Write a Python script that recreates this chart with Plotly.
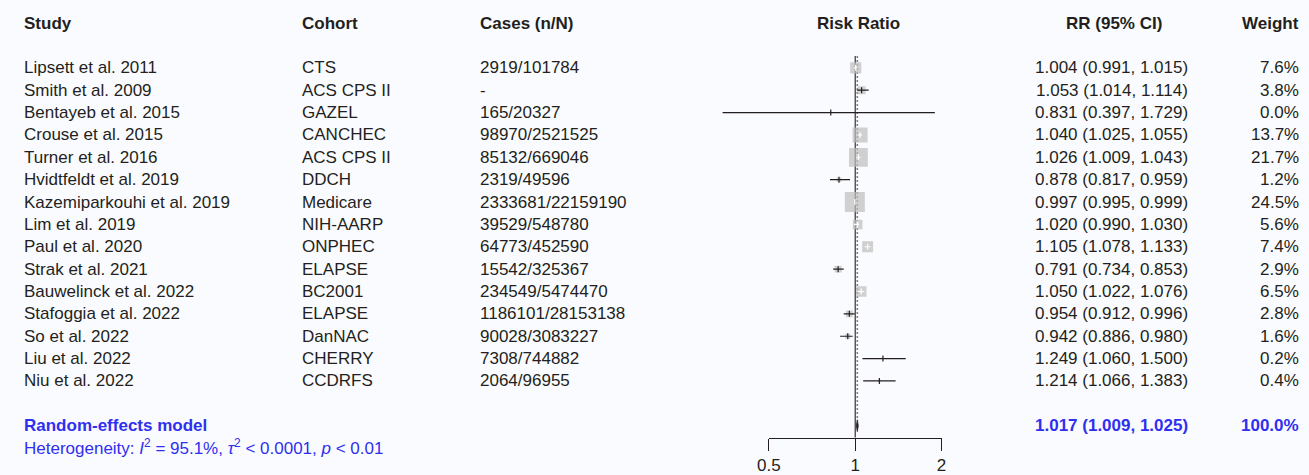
import math
import plotly.graph_objects as go

# ---------------- data ----------------
studies = ["Lipsett et al. 2011", "Smith et al. 2009", "Bentayeb et al. 2015", "Crouse et al. 2015",
           "Turner et al. 2016", "Hvidtfeldt et al. 2019", "Kazemiparkouhi et al. 2019", "Lim et al. 2019",
           "Paul et al. 2020", "Strak et al. 2021", "Bauwelinck et al. 2022", "Stafoggia et al. 2022",
           "So et al. 2022", "Liu et al. 2022", "Niu et al. 2022"]
cohorts = ["CTS", "ACS CPS II", "GAZEL", "CANCHEC", "ACS CPS II", "DDCH", "Medicare", "NIH-AARP",
           "ONPHEC", "ELAPSE", "BC2001", "ELAPSE", "DanNAC", "CHERRY", "CCDRFS"]
cases = ["2919/101784", "-", "165/20327", "98970/2521525", "85132/669046", "2319/49596",
         "2333681/22159190", "39529/548780", "64773/452590", "15542/325367", "234549/5474470",
         "1186101/28153138", "90028/3083227", "7308/744882", "2064/96955"]
# values printed in the RR (95% CI) column
rr = [1.004, 1.053, 0.831, 1.040, 1.026, 0.878, 0.997, 1.020, 1.105, 0.791, 1.050, 0.954, 0.942, 1.249, 1.214]
ci_lo = [0.991, 1.014, 0.397, 1.025, 1.009, 0.817, 0.995, 0.990, 1.078, 0.734, 1.022, 0.912, 0.886, 1.060, 1.066]
ci_hi = [1.015, 1.114, 1.729, 1.055, 1.043, 0.959, 0.999, 1.030, 1.133, 0.853, 1.076, 0.996, 0.980, 1.500, 1.383]
weights = [7.6, 3.8, 0.0, 13.7, 21.7, 1.2, 24.5, 5.6, 7.4, 2.9, 6.5, 2.8, 1.6, 0.2, 0.4]
# positions of the drawn marks
mark_rr = [1.004, 1.053, 0.822, 1.040, 1.026, 0.878, 0.997, 1.020, 1.105, 0.872, 1.050, 0.954, 0.942, 1.249, 1.214]
mark_lo = [0.991, 1.014, 0.345, 1.025, 1.009, 0.817, 0.995, 0.990, 1.078, 0.838, 1.022, 0.912, 0.886, 1.060, 1.066]
mark_hi = [1.015, 1.114, 1.895, 1.055, 1.043, 0.959, 0.999, 1.030, 1.133, 0.912, 1.076, 0.996, 0.980, 1.500, 1.383]

summary_label = "Random-effects model"
summary_rr, summary_lo, summary_hi, summary_weight = 1.017, 1.009, 1.025, 100.0
het_i2 = "95.1%"
het_tau2 = "&lt; 0.0001"
het_p = "&lt; 0.01"

headers = ["Study", "Cohort", "Cases (n/N)", "Risk Ratio", "RR (95% CI)", "Weight"]
tick_vals = [0.5, 1, 2]
tick_text = ["0.5", "1", "2"]

# ---------------- style / geometry ----------------
W, H = 1309, 475
FONT = "Liberation Sans, Arial, Helvetica, sans-serif"
FS = 17
TEXT = "#231f20"
BLUE = "#2f2ff0"
BOX = "#bebebe"
DOT = "#808080"
BG = "#fafbfe"

PX_PER_LOG2 = 87.5
X_ONE_PX = 854.3
PX_PER_DEC = PX_PER_LOG2 / math.log10(2)
FOREST_L, FOREST_R = 700, 960
ROW0, ROWH, AXIS_PX = 69.0, 22.75, 445.0
LW = 1.2


def lg(v):
    return math.log10(v)


x_range = [(FOREST_L - X_ONE_PX) / PX_PER_DEC, (FOREST_R - X_ONE_PX) / PX_PER_DEC]
y_range = [(H - ROW0) / ROWH, -ROW0 / ROWH]       # full figure height
axis_row = (AXIS_PX - ROW0) / ROWH
n = len(studies)
rows = list(range(n))
sum_row = n + 1
het_row = n + 1.93
head_row = (23.5 - ROW0) / ROWH
line_top = (57 - ROW0) / ROWH

box_px = [4.04 * math.sqrt(w) for w in weights]

# line colour: white if the CI fits inside the box, otherwise dark
inside = []
for e, lo, hi, s in zip(mark_rr, mark_lo, mark_hi, box_px):
    half = s / 2 / PX_PER_DEC
    inside.append(s > 0 and lg(lo) >= lg(e) - half and lg(hi) <= lg(e) + half)

fig = go.Figure()

# boxes
fig.add_trace(go.Scatter(
    x=[lg(v) for v in mark_rr], y=rows, mode="markers",
    marker=dict(symbol="square", size=box_px, color=BOX, line=dict(width=0)),
    hoverinfo="skip", showlegend=False))

# CI lines
for want_inside, col in [(False, TEXT), (True, "white")]:
    xs, ys = [], []
    for i in rows:
        if inside[i] == want_inside:
            xs += [lg(mark_lo[i]), lg(mark_hi[i]), None]
            ys += [i, i, None]
    fig.add_trace(go.Scatter(x=xs, y=ys, mode="lines", line=dict(color=col, width=LW),
                             hoverinfo="skip", showlegend=False))

# point ticks
fig.add_trace(go.Scatter(
    x=[lg(v) for v in mark_rr], y=rows, mode="markers",
    marker=dict(symbol="line-ns", size=6 / 1.4,
                line=dict(width=LW, color=["white" if f else TEXT for f in inside])),
    hoverinfo="skip", showlegend=False))

# summary diamond
dh = 6 / ROWH
fig.add_trace(go.Scatter(
    x=[lg(summary_lo), lg(summary_rr), lg(summary_hi), lg(summary_rr), lg(summary_lo)],
    y=[sum_row, sum_row - dh, sum_row, sum_row + dh, sum_row],
    mode="lines", fill="toself", fillcolor=TEXT, line=dict(color=TEXT, width=0.8),
    hoverinfo="skip", showlegend=False))

# dummy trace for the visible axis
fig.add_trace(go.Scatter(x=[None], y=[None], xaxis="x2", yaxis="y", mode="markers",
                         hoverinfo="skip", showlegend=False))

shapes = [
    dict(type="line", xref="x", yref="y", x0=lg(1), x1=lg(1), y0=line_top, y1=axis_row,
         line=dict(color=TEXT, width=1.1), layer="below"),
    dict(type="line", xref="x", yref="y", x0=lg(summary_rr), x1=lg(summary_rr), y0=line_top,
         y1=sum_row - dh, line=dict(color=DOT, width=1.6, dash="2px,2px"), layer="below"),
]

annotations = []


def ann(text, xpx, row, anchor="left", color=TEXT, bold=False):
    if bold:
        text = "<b>" + text + "</b>"
    annotations.append(dict(text=text, x=xpx / W, xref="paper", y=row, yref="y",
                            xanchor=anchor, yanchor="middle", showarrow=False,
                            font=dict(family=FONT, size=FS, color=color)))


STUDY_X, COHORT_X, CASES_X = 10, 292, 472
RISK_C, RR_HEAD_C, RR_R, WT_R = 858, 1117, 1194, 1306

ann(headers[0], STUDY_X, head_row, bold=True)
ann(headers[1], COHORT_X, head_row, bold=True)
ann(headers[2], CASES_X, head_row, bold=True)
ann(headers[3], RISK_C, head_row, anchor="center", bold=True)
ann(headers[4], RR_HEAD_C, head_row, anchor="center", bold=True)
ann(headers[5], WT_R, head_row, anchor="right", bold=True)

for i in rows:
    ann(studies[i], STUDY_X, i)
    ann(cohorts[i], COHORT_X, i)
    ann(cases[i], CASES_X, i)
    ann(f"{rr[i]:.3f} ({ci_lo[i]:.3f}, {ci_hi[i]:.3f})", RR_R, i, anchor="right")
    ann(f"{weights[i]:.1f}%", WT_R, i, anchor="right")

ann(summary_label, STUDY_X, sum_row, color=BLUE, bold=True)
ann(f"{summary_rr:.3f} ({summary_lo:.3f}, {summary_hi:.3f})", RR_R, sum_row, anchor="right",
    color=BLUE, bold=True)
ann(f"{summary_weight:.1f}%", WT_R, sum_row, anchor="right", color=BLUE, bold=True)
ann(f"Heterogeneity: <i>I</i><sup>2</sup> = {het_i2}, <i>τ</i><sup>2</sup> {het_tau2}, <i>p</i> {het_p}",
    STUDY_X, het_row, color=BLUE)

ax2_l = X_ONE_PX + PX_PER_DEC * lg(tick_vals[0])
ax2_r = X_ONE_PX + PX_PER_DEC * lg(tick_vals[-1])

fig.update_layout(
    width=W, height=H, margin=dict(l=0, r=0, t=0, b=0),
    paper_bgcolor=BG, plot_bgcolor="rgba(0,0,0,0)",
    showlegend=False, shapes=shapes, annotations=annotations,
    xaxis=dict(domain=[FOREST_L / W, FOREST_R / W], range=x_range, visible=False, fixedrange=True),
    xaxis2=dict(domain=[ax2_l / W, ax2_r / W], range=[lg(tick_vals[0]), lg(tick_vals[-1])],
                anchor="free", position=(H - AXIS_PX) / H,
                showline=True, linecolor=TEXT, linewidth=LW,
                ticks="outside", ticklen=12, tickwidth=LW, tickcolor=TEXT,
                tickvals=[lg(v) for v in tick_vals], ticktext=tick_text,
                tickfont=dict(family=FONT, size=FS, color=TEXT),
                showgrid=False, zeroline=False, fixedrange=True),
    yaxis=dict(domain=[0, 1], range=y_range, visible=False, fixedrange=True),
)

fig.write_html("out.html", config={"displayModeBar": False},
               post_script="document.body.style.margin='0';document.body.style.background='" + BG + "';")
